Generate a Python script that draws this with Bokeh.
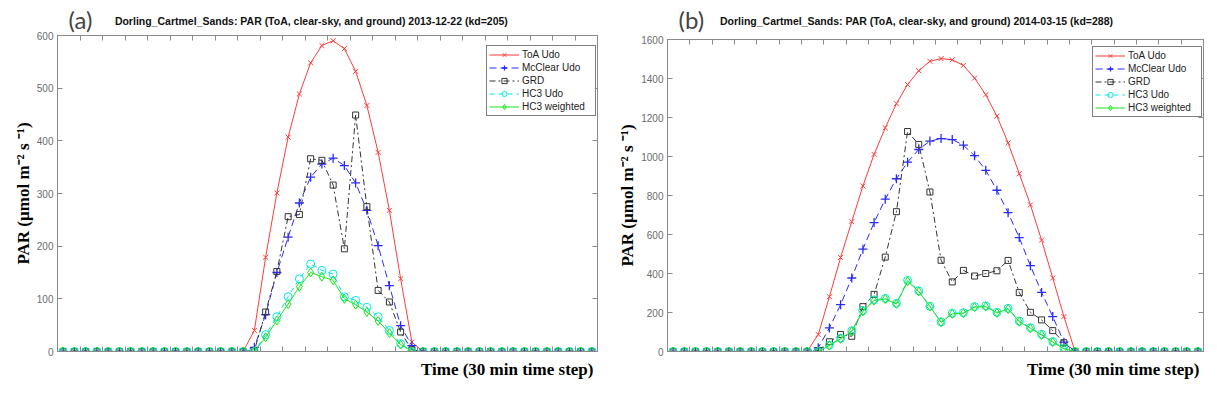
from bokeh.plotting import figure
from bokeh.models import Range1d, LinearAxis, FixedTicker, Label, Legend, LegendItem
from bokeh.layouts import row, column
from bokeh.embed import file_html
from bokeh.resources import INLINE

# ---------------- data ----------------
time_step = [i - 0.5 for i in range(1, 49)]  # 48 half-hour steps

series_names = ["ToA Udo", "McClear Udo", "GRD", "HC3 Udo", "HC3 weighted"]

# Panel (a) 2013-12-22
toa_a = [0]*17 + [40, 179, 301, 407, 489, 548, 581, 590, 575, 532, 467, 378, 268, 138, 18] + [0]*16
mcclear_a = [0]*17 + [8, 70, 150, 217, 282, 331, 356, 367, 353, 320, 268, 201, 125, 49, 11] + [0]*16
grd_a = [0]*17 + [2, 75, 152, 256, 260, 366, 363, 316, 195, 449, 275, 116, 94, 37, 3] + [0]*16
hc3_a = [0]*18 + [32, 66, 104, 138, 166, 154, 147, 104, 97, 84, 66, 40, 15] + [0]*17
hc3w_a = [0]*18 + [27, 59, 90, 123, 150, 142, 135, 100, 89, 75, 58, 35, 13] + [0]*17

# Panel (b) 2014-03-15
toa_b = [0]*13 + [87, 281, 482, 666, 849, 1011, 1147, 1271, 1369, 1440, 1488, 1502, 1496,
                  1467, 1402, 1317, 1207, 1070, 912, 752, 571, 377, 179] + [0]*12
mcclear_b = [0]*13 + [19, 121, 240, 377, 525, 661, 781, 886, 971, 1036, 1079, 1092, 1087,
                      1058, 1004, 929, 827, 712, 584, 440, 303, 179, 48] + [0]*12
grd_b = [0]*13 + [5, 50, 87, 78, 230, 293, 484, 717, 1128, 1062, 818, 468, 357,
                  416, 387, 400, 414, 467, 302, 201, 162, 107, 45] + [0]*12
hc3_b = [0]*13 + [0, 33, 68, 106, 210, 265, 272, 247, 365, 311, 232, 152, 196,
                  199, 230, 234, 201, 221, 156, 122, 88, 51, 17] + [0]*12
hc3w_b = [0]*13 + [0, 31, 65, 104, 206, 261, 269, 244, 360, 308, 230, 150, 193,
                   196, 227, 230, 198, 218, 153, 119, 85, 48, 14] + [0]*12

y_ticks_a = [0, 100, 200, 300, 400, 500, 600]
y_ticks_b = [0, 200, 400, 600, 800, 1000, 1200, 1400, 1600]
x_ticks = list(range(0, 49, 2))

title_a = "Dorling_Cartmel_Sands: PAR (ToA, clear-sky, and ground) 2013-12-22 (kd=205)"
title_b = "Dorling_Cartmel_Sands: PAR (ToA, clear-sky, and ground) 2014-03-15 (kd=288)"
y_label = "PAR (µmol m⁻² s ⁻¹)"
x_label = "Time (30 min time step)"

# ---------------- styles ----------------
STYLES = [
    dict(color="#ff3b3b", dash="solid", marker="x", size=7, mlw=1.0),
    dict(color="#2b2bff", dash="7 4", marker="cross", size=9, mlw=1.3),
    dict(color="#333333", dash="6 3 2 3", marker="square", size=6, mlw=1.0),
    dict(color="#00e8f0", dash="5 4", marker="circle", size=8, mlw=1.0),
    dict(color="#19e619", dash="solid", marker="diamond", size=9, mlw=1.0),
]
AXIS_GRAY = "#8a8a8a"


def style_axis(ax, ticks, labels_on):
    ax.ticker = FixedTicker(ticks=ticks)
    ax.axis_line_color = AXIS_GRAY
    ax.major_tick_line_color = AXIS_GRAY
    ax.major_tick_in = 5
    ax.major_tick_out = 0
    ax.minor_tick_line_color = None
    if labels_on:
        ax.major_label_text_font = "Liberation Sans"
        ax.major_label_text_font_size = "10px"
        ax.major_label_text_color = "#6b6b6b"
        ax.major_label_standoff = 4
    else:
        ax.major_label_text_font_size = "0px"
        ax.major_label_standoff = 0


def make_panel(tag, title, series, ymax, yticks, border_l, border_r, frame_top_page,
               frame_w, frame_h, tag_x, title_x, legend_xy):
    border_t = frame_top_page
    border_b = 394 - border_t - frame_h
    p = figure(frame_width=frame_w, frame_height=frame_h,
               x_range=Range1d(0, 48), y_range=Range1d(0, ymax),
               min_border_left=border_l, min_border_right=border_r,
               min_border_top=border_t, min_border_bottom=border_b,
               output_backend="svg", toolbar_location=None)
    p.xgrid.visible = False
    p.ygrid.visible = False
    p.outline_line_color = AXIS_GRAY
    p.background_fill_color = "white"
    p.border_fill_color = "white"

    style_axis(p.xaxis[0], x_ticks, False)
    style_axis(p.yaxis[0], yticks, True)
    p.yaxis[0].axis_label = y_label
    p.yaxis[0].axis_label_text_font = "Liberation Serif"
    p.yaxis[0].axis_label_text_font_style = "bold"
    p.yaxis[0].axis_label_text_font_size = "17px"
    p.yaxis[0].axis_label_text_color = "black"
    p.yaxis[0].axis_label_standoff = 1

    top_ax = LinearAxis()
    style_axis(top_ax, x_ticks, False)
    p.add_layout(top_ax, "above")
    right_ax = LinearAxis()
    style_axis(right_ax, yticks, False)
    p.add_layout(right_ax, "right")

    items = []
    for name, st, vals in zip(series_names, STYLES, series):
        ln = p.line(time_step, vals, line_color=st["color"], line_width=1,
                    line_dash=st["dash"])
        sc = p.scatter(time_step, vals, marker=st["marker"], size=st["size"],
                       line_color=st["color"], fill_color=None,
                       line_width=st["mlw"])
        items.append(LegendItem(label=name, renderers=[ln, sc]))

    legend = Legend(items=items, location=legend_xy,
                    label_text_font="Liberation Sans", label_text_font_size="10px",
                    label_text_color="#222222",
                    glyph_width=30, glyph_height=13, label_height=13,
                    label_width=71, label_standoff=3, padding=2, spacing=0,
                    margin=0, border_line_color="black", border_line_width=1,
                    background_fill_color="white", background_fill_alpha=1)
    p.add_layout(legend)

    # positions below are in page pixels; convert to data units of this frame
    px_y = frame_h / ymax
    frame_bottom_page = frame_top_page + frame_h
    p.add_layout(Label(x=tag_x, y=ymax + (frame_top_page - 19) / px_y, text=tag,
                       text_font="Lato", text_font_size="24px", text_line_height=0.7,
                       text_baseline="middle", text_align="left"), "above")
    p.add_layout(Label(x=47.64, y=-(369 - frame_bottom_page) / px_y, text=x_label,
                       text_font="Liberation Serif", text_font_style="bold",
                       text_font_size="17px", text_color="black",
                       text_baseline="middle", text_align="right"), "below")
    # the title is drawn above the frame but hosted in the roomier lower panel
    p.add_layout(Label(x=title_x, y=ymax + (frame_top_page - 20) / px_y, text=title,
                       text_font="Liberation Sans", text_font_style="bold",
                       text_font_size="10.5px", text_color="#111111",
                       text_baseline="middle", text_align="left"), "below")
    return p


pa = make_panel("(a)", title_a, [toa_a, mcclear_a, grd_a, hc3_a, hc3w_a], 600, y_ticks_a,
                57, 13, 35, 540, 316, 0.98, 5.1, (429, 235))
pb = make_panel("(b)", title_b, [toa_b, mcclear_b, grd_b, hc3_b, hc3w_b], 1600, y_ticks_b,
                57, 13, 39, 536, 312, 0.99, 4.7, (425, 234))

# each panel in its own column so that their frames are not aligned to each other
layout = row(column(pa), column(pb))
open("out.html", "w").write(file_html(layout, INLINE))
